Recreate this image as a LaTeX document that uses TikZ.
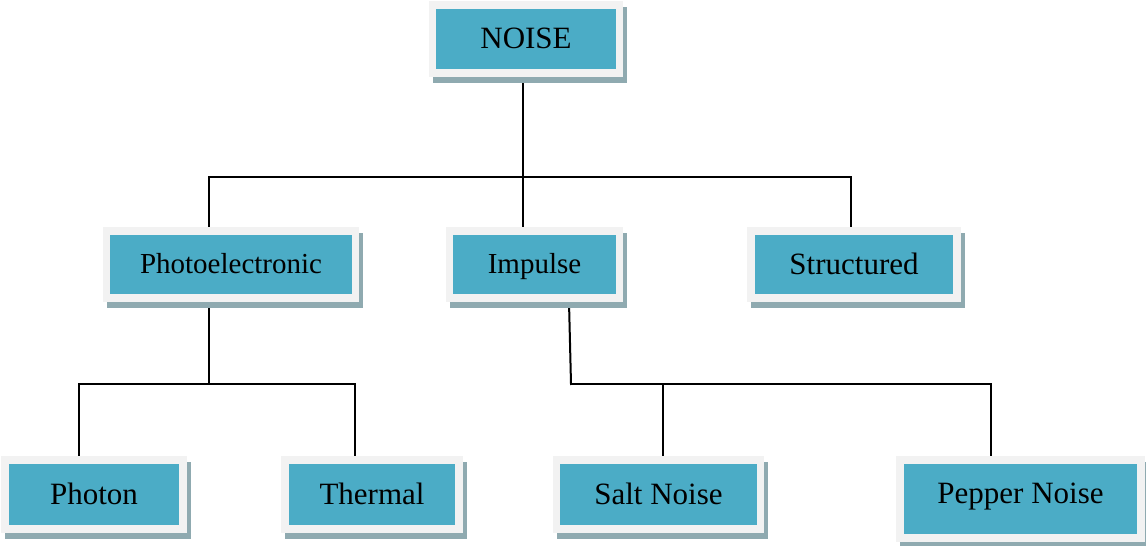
\documentclass[tikz,border=0pt]{standalone}
\usepackage{fontspec}
\setmainfont{Liberation Serif}
\usetikzlibrary{shadows,backgrounds,calc}

\definecolor{boxfill}{HTML}{4BACC6}
\definecolor{boxframe}{HTML}{F2F2F2}
\definecolor{boxshade}{HTML}{8FAAB0}

\begin{document}
\begin{tikzpicture}[x=1pt,y=-1pt,
  box/.style={fill=boxfill, draw=boxframe, line width=7.5pt, inner sep=0pt,
    font=\fontsize{31}{37}\selectfont, text height=22pt, text depth=3pt,
    drop shadow={shadow xshift=4pt, shadow yshift=-6pt, opacity=1,
      fill=boxshade, draw=boxshade, line width=7.5pt}},
  small/.style={font=\fontsize{29}{35}\selectfont, text height=20.5pt},
  link/.style={draw, line width=2pt, line cap=rect}]
\useasboundingbox (0,0) rectangle (1146,546);

% top
\node[box, minimum width=187pt, minimum height=68pt] (n) at (526,39) {NOISE};

% second row
\node[box, small, minimum width=249pt, minimum height=67pt] (p) at (231,264.5) {Photoelectronic};
\node[box, small, minimum width=170pt, minimum height=67pt] (i) at (534.5,264.5) {Impulse};
\node[box, minimum width=206pt, minimum height=67pt] (s) at (854,264.5) {Structured};

% third row
\node[box, minimum width=178pt, minimum height=69pt] (ph) at (94,494.5) {Photon};
\node[box, minimum width=174pt, minimum height=69pt] (th) at (372,494.5) {Thermal};
\node[box, minimum width=204pt, minimum height=69pt] (sa) at (658.5,494.5) {Salt Noise};
\node[box, minimum width=241pt, minimum height=78pt, text depth=14pt] (pe) at (1020.5,499) {Pepper Noise};

\begin{scope}[on background layer]
\coordinate (a1) at (209,177);
\coordinate (a2) at (851,177);
\coordinate (a3) at (523,177);
\path[link] (n.south -| a3) -- (i.north -| a3);
\path[link] (a1) -- (a2);
\path[link] (a1) -- (p.north -| a1);
\path[link] (a2) -- (s.north -| a2);

\coordinate (b1) at (79,384);
\coordinate (b2) at (355,384);
\coordinate (b3) at (209,384);
\path[link] (p.south -| b3) -- (b3);
\path[link] (b1) -- (b2);
\path[link] (b1) -- (ph.north -| b1);
\path[link] (b2) -- (th.north -| b2);

\coordinate (c1) at (571,384);
\coordinate (c2) at (991,384);
\coordinate (c3) at (663,384);
\path[link] ($(i.south -| c1)+(-2,0)$) -- (c1);
\path[link] (c1) -- (c2);
\path[link] (c3) -- (sa.north -| c3);
\path[link] (c2) -- (pe.north -| c2);
\end{scope}
\end{tikzpicture}
\end{document}
